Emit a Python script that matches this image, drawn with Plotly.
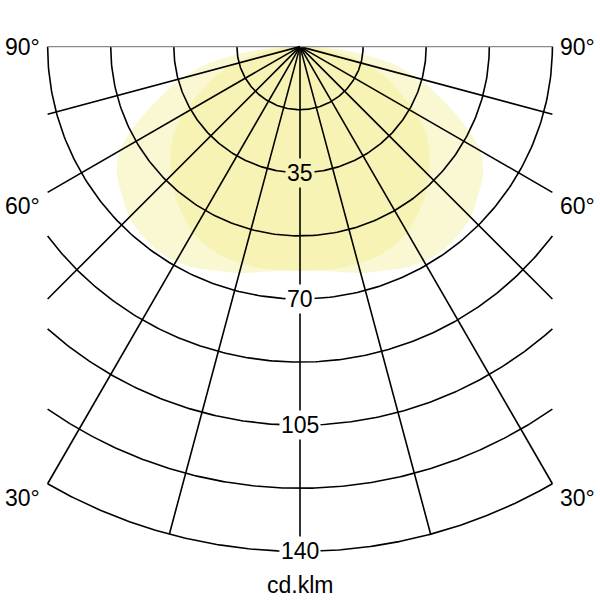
import numpy as np
import plotly.graph_objects as go


# luminous intensity in cd/klm, gamma angle -90..90 in 5 degree steps
GAMMA = list(range(-90, 95, 5))
C0_180 = [0, 13, 25, 34, 41.5, 49.8, 57.8, 62, 64.4, 67, 68.2, 69, 68.8, 67.8, 66.2, 65, 63.5, 62.5,
          62.2,
          62.5, 63.5, 65, 66.2, 67.8, 68.8, 69, 68.2, 67, 64.4, 62, 57.8, 49.8, 41.5, 34, 25, 13, 0]
C90_270 = [0, 6.5, 13, 19.5, 25.5, 31, 37.5, 42.8, 47, 50.5, 54, 56.8, 59.5, 61, 62.1, 62.3, 62.4, 62.2,
           62,
           62.2, 62.4, 62.3, 62.1, 61, 59.5, 56.8, 54, 50.5, 47, 42.8, 37.5, 31, 25.5, 19.5, 13, 6.5, 0]

RADII = [17.5, 35, 52.5, 70, 87.5, 105, 122.5, 140]
RADIUS_LABELS = [35, 70, 105, 140]
SPOKES = [-90, -75, -60, -45, -30, -15, 0, 15, 30, 45, 60, 75, 90]
ANGLE_LABELS = [90, 60, 30]

HALF_WIDTH = 70
R_MAX = 140
FONT = "Liberation Sans, Arial, sans-serif"
FONT_SIZE = 23
FILL = "rgba(238, 232, 110, 0.3)"
FILL_2X = "rgb(246, 243, 181)"


def to_xy(angle_deg, r):
    a = np.radians(np.asarray(angle_deg, dtype=float))
    r = np.asarray(r, dtype=float)
    return r * np.sin(a), -r * np.cos(a)


fig = go.Figure()

for values in (C0_180, C90_270):
    x, y = to_xy(GAMMA, values)
    fig.add_trace(go.Scatter(x=x, y=y, mode="lines", fill="toself", fillcolor=FILL,
                             line=dict(width=0, shape="spline", smoothing=0.8),
                             hoverinfo="skip", showlegend=False))

# concentric circles, clipped to the frame
for r in RADII:
    lim = 90 if r <= HALF_WIDTH else np.degrees(np.arcsin(HALF_WIDTH / r))
    ang = np.linspace(-lim, lim, 200)
    x, y = to_xy(ang, np.full_like(ang, r))
    fig.add_trace(go.Scatter(x=x, y=y, mode="lines", line=dict(color="black", width=1.6),
                             hoverinfo="skip", showlegend=False))

# spokes
for a in SPOKES:
    s = abs(np.sin(np.radians(a)))
    length = R_MAX if s == 0 else min(R_MAX, HALF_WIDTH / s)
    x, y = to_xy([a, a], [0, length])
    color = "#8a8a8a" if abs(a) == 90 else "black"
    width = 1.3 if abs(a) == 90 else 1.6
    fig.add_trace(go.Scatter(x=x, y=y, mode="lines", line=dict(color=color, width=width),
                             hoverinfo="skip", showlegend=False))

for r in RADIUS_LABELS:
    fig.add_annotation(x=0, y=-r, text=str(r), showarrow=False,
                       font=dict(family=FONT, size=FONT_SIZE, color="black"),
                       bgcolor=FILL_2X if r < 60 else "white", borderpad=1)

for a in ANGLE_LABELS:
    t = np.radians(a)
    y = -HALF_WIDTH * np.cos(t) / np.sin(t)
    shift = 0 if a == 90 else -14
    for side in (-1, 1):
        fig.add_annotation(x=side * HALF_WIDTH, y=y, text=f"{a}°", showarrow=False,
                           xanchor="right" if side < 0 else "left",
                           xshift=6 * side, yshift=shift,
                           font=dict(family=FONT, size=FONT_SIZE, color="black"))

fig.add_annotation(x=0, y=-R_MAX, text="cd.klm", showarrow=False, yshift=-34,
                   font=dict(family=FONT, size=FONT_SIZE, color="black"))

fig.update_layout(
    width=600,
    height=600,
    margin=dict(l=44.4, r=44.4, t=43.4, b=45.4),
    paper_bgcolor="white",
    plot_bgcolor="white",
    xaxis=dict(range=[-71, 71], visible=False, fixedrange=True),
    yaxis=dict(range=[-141, 1], visible=False, fixedrange=True),
    showlegend=False,
)

# the page body has a default 8px margin, drop it so the figure sits at 0,0
fig.write_html("out.html", config={"displayModeBar": False},
               post_script="document.body.style.margin = '0';")
